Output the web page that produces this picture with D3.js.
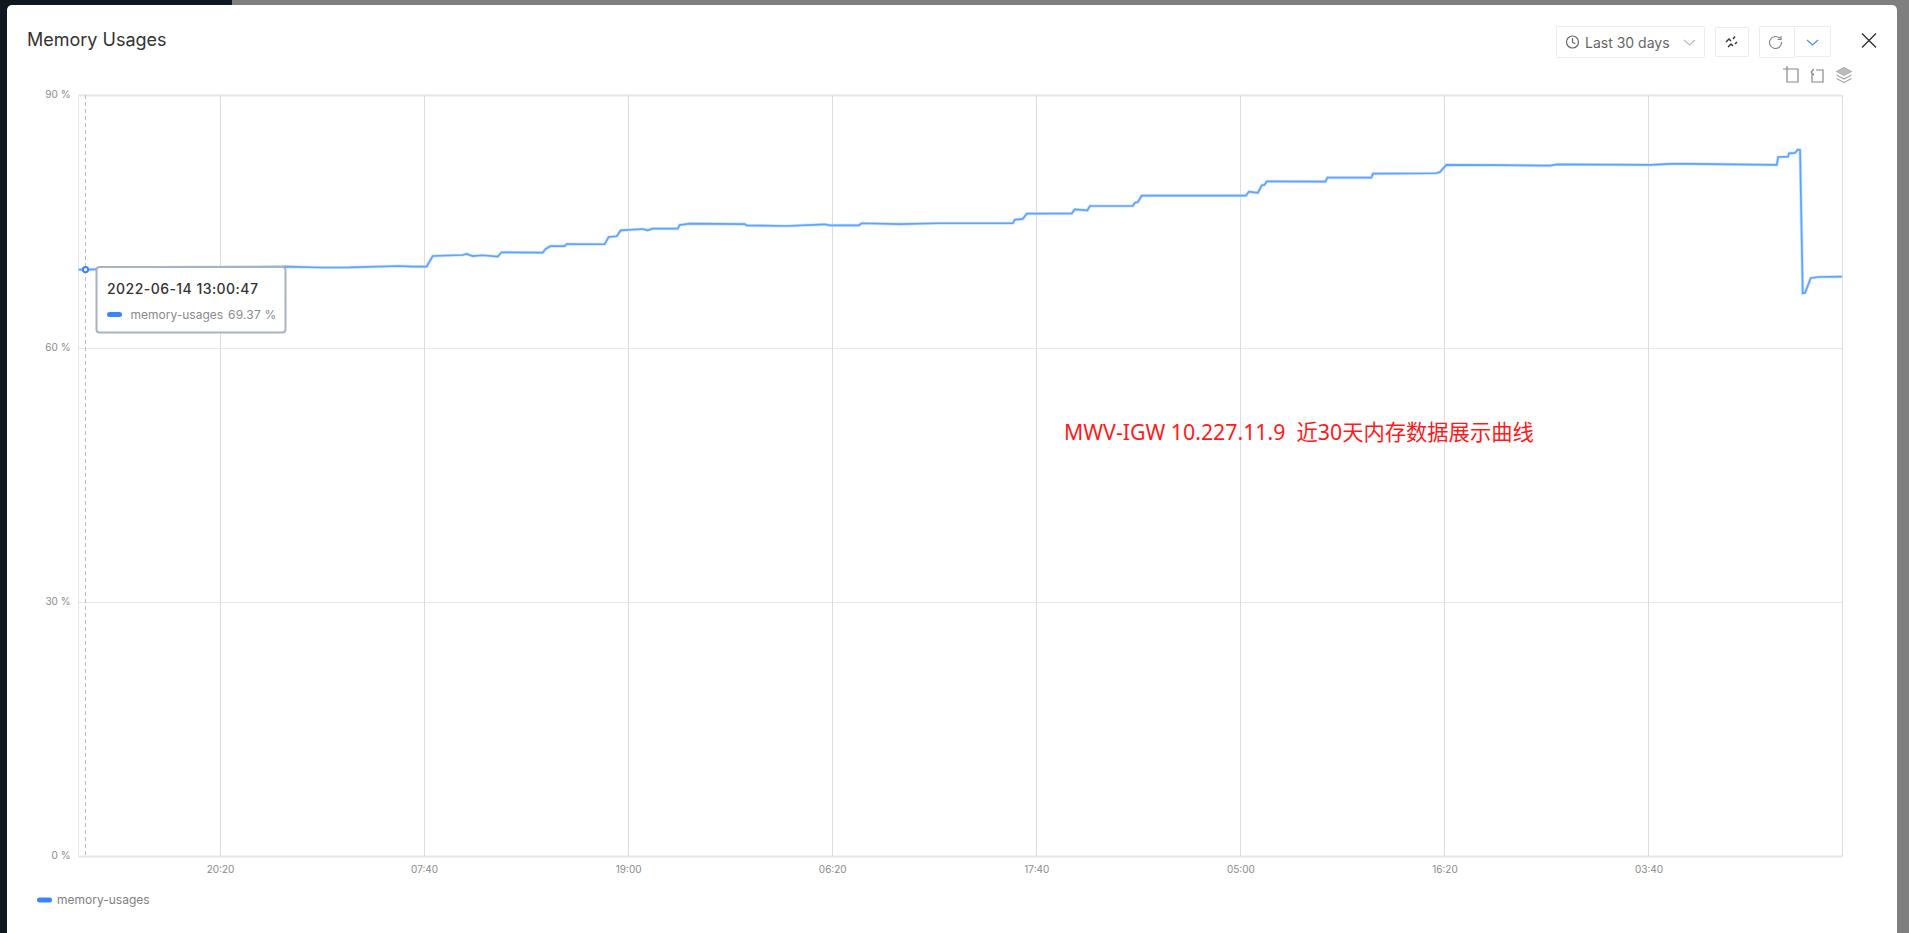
<!DOCTYPE html>
<html><head><meta charset="utf-8">
<script src="https://cdn.jsdelivr.net/npm/d3@7"></script>
<style>
html,body{margin:0;padding:0;background:#7f7f7f;overflow:hidden}
svg{display:block;font-family:Inter,"Noto Sans",sans-serif}
</style></head><body><svg id="c" width="1909" height="933"></svg>
<script>
const seriesName = "memory-usages";
const hoursFromFirstTick = [-7.86,-7.5,-6.92,-3.92,-0.03,3.69,5.53,7.19,9.97,10.69,11.47,11.81,13.47,13.69,14.03,14.58,15.42,15.64,17.92,18.08,18.36,19.14,19.25,21.36,21.58,22.03,22.25,23.47,23.75,24.03,25.42,25.53,26.08,29.14,29.25,31.47,33.58,33.86,35.47,35.64,37.75,39.86,44.03,44.14,44.58,44.81,47.31,47.47,48.17,48.31,50.69,50.81,50.97,51.19,56.97,57.14,57.64,57.86,58,58.14,61.39,61.5,63.94,64.03,67.53,67.75,67.92,68.11,71.08,73.86,74.25,79.42,80.53,81.64,86.46,86.53,87.08,87.14,87.47,87.62,87.75,87.9,88.03,88.34,88.75,90.07];
const usagePercent = [69.37,69.37,69.4,69.6,69.65,69.71,69.61,69.62,69.79,69.71,69.71,70.97,71.09,71.21,70.97,71.06,70.89,71.41,71.36,71.8,72.15,72.15,72.39,72.36,73.22,73.3,74.01,74.16,74.01,74.2,74.2,74.64,74.79,74.75,74.6,74.52,74.72,74.6,74.6,74.84,74.75,74.84,74.84,75.26,75.35,75.97,76.02,76.49,76.37,76.88,76.88,77.27,77.35,78.1,78.1,78.57,78.45,79.33,79.37,79.8,79.76,80.23,80.23,80.7,80.75,80.9,81.29,81.73,81.71,81.65,81.81,81.73,81.85,81.85,81.73,82.67,82.71,83.11,83.15,83.54,83.5,66.56,66.63,68.34,68.49,68.53];
const xTickHours = [0,11.333,22.667,34,45.333,56.667,68,79.333];
const xTickLabels = ["20:20","07:40","19:00","06:20","17:40","05:00","16:20","03:40"];
const yTicks = [0,30,60,90];
const hoverHour = -7.5, hoverValue = 69.37, hoverTime = "2022-06-14 13:00:47";

const svg = d3.select("#c");
const L=78.5,R=1842,T=95,B=856.5;
const x = d3.scaleLinear().domain([-7.861,90.08]).range([L,R]);
const y = d3.scaleLinear().domain([0,90]).range([B,T]);
const snap = v=>Math.floor(v)+.5;

// backdrop
svg.append("rect").attr("width",1909).attr("height",933).attr("fill","#7f7f7f");
svg.append("rect").attr("width",232).attr("height",933).attr("fill","#0f1820");
svg.append("rect").attr("x",7).attr("y",5).attr("width",1890).attr("height",960).attr("rx",5).attr("fill","#fff");

// title
svg.append("text").attr("x",27).attr("y",45.5).attr("font-size",18).attr("font-weight",400).attr("fill","#333").text("Memory Usages");

// plot frame and grid
const g = svg.append("g");
g.selectAll(".gy").data(yTicks).join("line").attr("x1",L).attr("x2",R).attr("y1",d=>snap(y(d))).attr("y2",d=>snap(y(d))).attr("stroke","#e6e6e6").attr("stroke-width",d=>d==0||d==90?2:1);
g.selectAll(".gx").data(xTickHours).join("line").attr("x1",d=>snap(x(d))).attr("x2",d=>snap(x(d))).attr("y1",T).attr("y2",B).attr("stroke","#dcdcdc");
g.append("line").attr("x1",snap(L)).attr("x2",snap(L)).attr("y1",T).attr("y2",B).attr("stroke","#e6e6e6");
g.append("line").attr("x1",snap(R)).attr("x2",snap(R)).attr("y1",T).attr("y2",B).attr("stroke","#dcdcdc");

// axes
const xAxis = svg.append("g").attr("transform",`translate(0,${B})`)
  .call(d3.axisBottom(x).tickValues(xTickHours).tickSize(0).tickPadding(9).tickFormat((d,i)=>xTickLabels[i]));
const yAxis = svg.append("g").attr("transform",`translate(${L},0)`)
  .call(d3.axisLeft(y).tickValues(yTicks).tickSize(0).tickPadding(8).tickFormat(d=>d+" %"));
[xAxis,yAxis].forEach(a=>{a.select(".domain").remove();a.selectAll("text").attr("font-size",10).attr("font-family","Inter").attr("fill","#8a8a8a");});
yAxis.selectAll("text").attr("dy","0.2em");

// hover line
svg.append("line").attr("x1",snap(x(hoverHour))).attr("x2",snap(x(hoverHour))).attr("y1",T).attr("y2",B).attr("stroke","#b4bdcd").attr("stroke-dasharray","4 3");

// series
const pts = hoursFromFirstTick.map((h,i)=>[h,usagePercent[i]]);
const line = d3.line().x(d=>x(d[0])).y(d=>y(d[1]));
svg.append("path").attr("d",line(pts)).attr("fill","none").attr("stroke","#cfe3ff").attr("stroke-width",3.2);
svg.append("path").attr("d",line(pts)).attr("fill","none").attr("stroke","#5ba4ff").attr("stroke-width",1.7);

// hover marker
svg.append("circle").attr("cx",snap(x(hoverHour))).attr("cy",y(hoverValue)).attr("r",2.6).attr("fill","#fff").attr("stroke","#3a85ff").attr("stroke-width",2);

// tooltip
const tip = svg.append("g");
tip.append("rect").attr("x",96.5).attr("y",267).attr("width",189).attr("height",65.5).attr("rx",3).attr("fill","#fff").attr("stroke","#a8b3bf").attr("stroke-width",2);
tip.append("text").attr("x",107).attr("y",294).attr("font-size",14).attr("font-weight",500).attr("letter-spacing",0.45).attr("fill","#333").text(hoverTime);
tip.append("rect").attr("x",107).attr("y",312).attr("width",15).attr("height",5).attr("rx",2.5).attr("fill","#3a85ff");
tip.append("text").attr("x",130.5).attr("y",318.5).attr("font-size",12).attr("fill","#8a8a8a").text(seriesName);
tip.append("text").attr("x",228).attr("y",318.5).attr("font-size",12).attr("letter-spacing",0.2).attr("fill","#8a8a8a").text(hoverValue+" %");

// legend
svg.append("rect").attr("x",37).attr("y",897.5).attr("width",15).attr("height",5).attr("rx",2.5).attr("fill","#3a85ff");
svg.append("text").attr("x",57).attr("y",904).attr("font-size",12).attr("fill","#808080").text(seriesName);

// annotation
svg.append("text").attr("x",1064).attr("y",440).attr("font-size",21.3).attr("fill","#ff1a1a")
  .attr("font-family","'Noto Sans','Noto Sans CJK SC',sans-serif").style("white-space","pre").text("MWV-IGW 10.227.11.9  近30天内存数据展示曲线");

// toolbar
const box=(x0,y0,w,h)=>svg.append("rect").attr("x",x0+.5).attr("y",y0+.5).attr("width",w).attr("height",h).attr("rx",1).attr("fill","#fff").attr("stroke","#ececec");
box(1556,26,148,31);box(1715,27,33,29);box(1759,26,35,31);box(1794,26,36,30);
const ic=(d,c,w,f)=>svg.append("path").attr("d",d).attr("fill",f||"none").attr("stroke",c||"#666").attr("stroke-width",w||1.2);
svg.append("circle").attr("cx",1572.5).attr("cy",42).attr("r",6).attr("fill","none").attr("stroke","#666").attr("stroke-width",1.2);
ic("M1572.5 38v4.2l2.8 1.6");
svg.append("text").attr("x",1585).attr("y",47.5).attr("font-size",14).attr("fill","#666").text("Last 30 days");
ic("M1684 40l5.5 5 5.5-5","#bbb");
ic("M1726 42l3-3 2 2M1733 39l2-2.5M1728 47l3-3 2 2M1735 44l2-2","#333",1.4);
ic("M1780 38.5a6 6 0 1 0 1.5 3.5M1781 36v3.5h-3.5","#888");
ic("M1807 40l5.5 5 5.5-5","#4a90d9");
ic("M1862 33.5l14 14M1876 33.5l-14 14","#333",1.4);
ic("M1783 69h15v13h-11V66","#888");
ic("M1816 70h7v12h-11v-9M1811 72l3-3M1811 72l3 3","#888");
ic("M1844 67.5l7.5 4-7.5 4-7.5-4z","#aaa",1,"#bbb");
ic("M1836.5 75l7.5 4 7.5-4M1836.5 78.5l7.5 4 7.5-4","#aaa");
</script></body></html>
